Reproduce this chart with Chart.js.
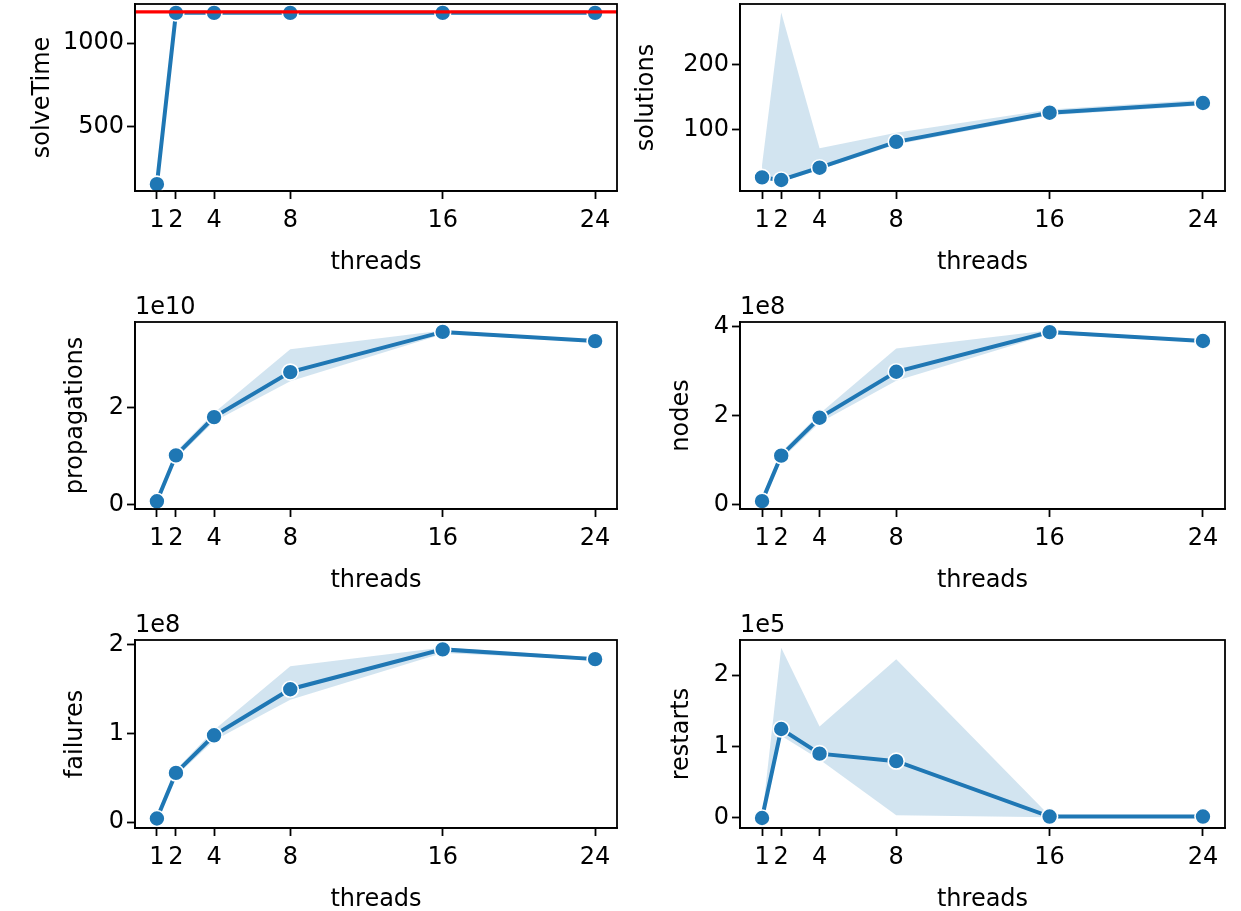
<!DOCTYPE html>
<html>
<head>
<meta charset="utf-8">
<script src="https://cdn.jsdelivr.net/npm/chart.js@4.4.0/dist/chart.umd.min.js"></script>
<style>
  body { margin: 0; background: #fff; }
  #fig { position: relative; width: 1241px; height: 911px; overflow: hidden; }
  canvas { position: absolute; }
</style>
</head>
<body>
<div id="fig"></div>
<script>
// x values shared by every panel
const threads = [1, 2, 4, 8, 16, 24];

// solveTime (seconds), with the time limit drawn in red
const solveTimeMean = [153, 1182, 1182, 1182, 1182, 1182];
const solveTimeLow = [150, 1179, 1179, 1179, 1179, 1179];
const solveTimeHigh = [156, 1186, 1186, 1186, 1186, 1186];
const solveTimeLimit = 1188;

const solutionsMean = [26, 22, 41, 81, 126, 141];
const solutionsLow = [24, 19, 38, 77, 122, 137];
const solutionsHigh = [45, 281, 71, 95, 131, 146];

// propagations, in units of 1e10
const propagationsMean = [0.07, 1.02, 1.81, 2.74, 3.57, 3.38];
const propagationsLow = [0.06, 0.95, 1.72, 2.55, 3.52, 3.36];
const propagationsHigh = [0.09, 1.10, 1.90, 3.21, 3.60, 3.41];

// nodes, in units of 1e8
const nodesMean = [0.08, 1.10, 1.95, 2.98, 3.87, 3.67];
const nodesLow = [0.07, 1.02, 1.84, 2.78, 3.82, 3.65];
const nodesHigh = [0.10, 1.18, 2.04, 3.50, 3.91, 3.70];

// failures, in units of 1e8
const failuresMean = [0.04, 0.555, 0.98, 1.50, 1.95, 1.84];
const failuresLow = [0.03, 0.52, 0.92, 1.38, 1.91, 1.83];
const failuresHigh = [0.05, 0.59, 1.04, 1.76, 1.97, 1.86];

// restarts, in units of 1e5
const restartsMean = [0.0, 1.245, 0.90, 0.795, 0.02, 0.02];
const restartsLow = [0.0, 1.15, 0.82, 0.04, 0.01, 0.01];
const restartsHigh = [0.0, 2.38, 1.28, 2.22, 0.03, 0.03];

const xMin = -0.15, xMax = 25.15;

const panels = [
    {label: 'solveTime', mean: solveTimeMean, low: solveTimeLow, high: solveTimeHigh, limit: solveTimeLimit,
     yMin: 112, yMax: 1235, yTicks: [500, 1000], exp: '', row: 0, col: 0, titlePad: 28},
    {label: 'solutions', mean: solutionsMean, low: solutionsLow, high: solutionsHigh,
     yMin: 5, yMax: 294, yTicks: [100, 200], exp: '', row: 0, col: 1, titlePad: 2},
    {label: 'propagations', mean: propagationsMean, low: propagationsLow, high: propagationsHigh,
     yMin: -0.089, yMax: 3.775, yTicks: [0, 2], exp: '1e10', row: 1, col: 0, titlePad: 61},
    {label: 'nodes', mean: nodesMean, low: nodesLow, high: nodesHigh,
     yMin: -0.096, yMax: 4.096, yTicks: [0, 2, 4], exp: '1e8', row: 1, col: 1, titlePad: 37},
    {label: 'failures', mean: failuresMean, low: failuresLow, high: failuresHigh,
     yMin: -0.067, yMax: 2.056, yTicks: [0, 1, 2], exp: '1e8', row: 2, col: 0, titlePad: 61},
    {label: 'restarts', mean: restartsMean, low: restartsLow, high: restartsHigh,
     yMin: -0.14, yMax: 2.49, yTicks: [0, 1, 2], exp: '1e5', row: 2, col: 1, titlePad: 37},
];

// page layout (px)
const colCanvas = [{left: 0, width: 630}, {left: 630, width: 611}];
const colArea = [{L: 135, R: 617}, {L: 740, R: 1225}];
const rowArea = [{T: 4, B: 191}, {T: 322, B: 509}, {T: 640, B: 828}];
const xAxisHeight = 90;

const BLUE = '#1f77b4';
const BAND = 'rgba(31, 119, 180, 0.2)';
const FONT = {family: 'DejaVu Sans', size: 24};

Chart.defaults.font.family = FONT.family;
Chart.defaults.font.size = FONT.size;
Chart.defaults.color = '#000';

// matplotlib style closed frame + offset text ("1e8")
const framePlugin = {
    id: 'frame',
    afterDraw(chart, args, opts) {
        const {ctx, chartArea: a} = chart;
        ctx.save();
        ctx.strokeStyle = '#000';
        ctx.lineWidth = 1.8;
        ctx.strokeRect(a.left, a.top, a.right - a.left, a.bottom - a.top);
        if (opts.exp) {
            ctx.fillStyle = '#000';
            ctx.font = `${FONT.size}px ${FONT.family}`;
            ctx.textAlign = 'left';
            ctx.textBaseline = 'bottom';
            ctx.fillText(opts.exp, a.left, a.top - 2);
        }
        ctx.restore();
    }
};

const fig = document.getElementById('fig');

panels.forEach(p => {
    const cc = colCanvas[p.col], ca = colArea[p.col], ra = rowArea[p.row];
    const padTop = p.row === 0 ? ra.T : 40;
    const canvas = document.createElement('canvas');
    const h = padTop + (ra.B - ra.T) + xAxisHeight;
    canvas.width = cc.width;
    canvas.height = h;
    canvas.style.left = cc.left + 'px';
    canvas.style.top = (ra.T - padTop) + 'px';
    fig.appendChild(canvas);

    const pts = arr => arr.map((v, i) => ({x: threads[i], y: v}));
    const datasets = [];
    if (p.limit !== undefined) {
        datasets.push({
            data: [{x: xMin, y: p.limit}, {x: xMax, y: p.limit}],
            borderColor: '#ff0000', borderWidth: 3.4, pointRadius: 0, order: 0
        });
    }
    datasets.push({
        data: pts(p.mean),
        borderColor: BLUE, borderWidth: 4,
        pointRadius: 8, pointBackgroundColor: BLUE, pointBorderColor: '#fff', pointBorderWidth: 1.6,
        order: 1
    });
    datasets.push({
        data: pts(p.high),
        borderWidth: 0, borderColor: 'rgba(0,0,0,0)', pointRadius: 0,
        backgroundColor: BAND, fill: '+1', order: 2
    });
    datasets.push({
        data: pts(p.low),
        borderWidth: 0, borderColor: 'rgba(0,0,0,0)', pointRadius: 0, fill: false, order: 3
    });

    new Chart(canvas, {
        type: 'line',
        data: {datasets: datasets},
        plugins: [framePlugin],
        options: {
            responsive: false,
            animation: false,
            devicePixelRatio: 1,
            layout: {
                autoPadding: false,
                padding: {left: 0, top: padTop, right: cc.width - (ca.R - cc.left), bottom: 0}
            },
            elements: {line: {tension: 0}},
            plugins: {
                legend: {display: false},
                tooltip: {enabled: false},
                frame: {exp: p.exp}
            },
            scales: {
                x: {
                    type: 'linear', min: xMin, max: xMax,
                    afterBuildTicks: s => { s.ticks = threads.map(v => ({value: v})); },
                    afterFit: s => { s.height = xAxisHeight; s.paddingLeft = 0; s.paddingRight = 0; },
                    ticks: {autoSkip: false, maxRotation: 0, padding: 7, callback: v => String(v)},
                    grid: {drawOnChartArea: false, drawTicks: true, tickLength: 8, tickWidth: 1.8, tickColor: '#000'},
                    border: {display: true, color: '#000', width: 1.8},
                    title: {display: true, text: 'threads', padding: {top: 0, bottom: 4}}
                },
                y: {
                    type: 'linear', min: p.yMin, max: p.yMax,
                    afterBuildTicks: s => { s.ticks = p.yTicks.map(v => ({value: v})); },
                    afterFit: s => { s.width = ca.L - cc.left; s.paddingTop = 0; s.paddingBottom = 0; },
                    ticks: {padding: 3, callback: v => String(v)},
                    grid: {drawOnChartArea: false, drawTicks: true, tickLength: 8, tickWidth: 1.8, tickColor: '#000'},
                    border: {display: true, color: '#000', width: 1.8},
                    title: {display: true, text: p.label, padding: {top: p.titlePad, bottom: 0}}
                }
            }
        }
    });
});
</script>
</body>
</html>
